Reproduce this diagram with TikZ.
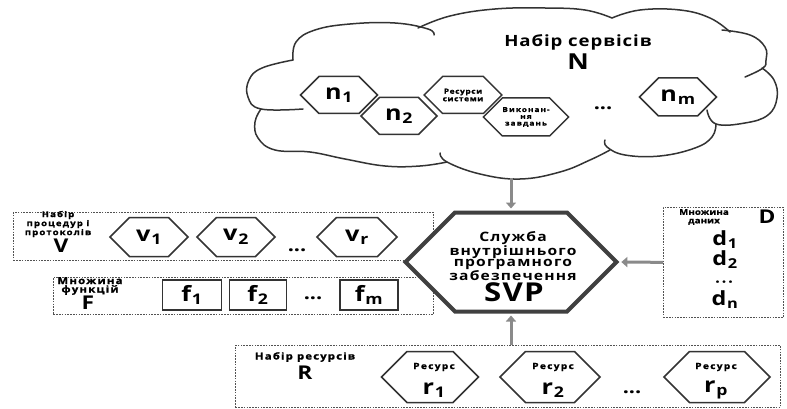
\documentclass[tikz,border=0pt]{standalone}
\usepackage{fontspec}
\setmainfont{Open Sans}[FakeStretch=1.2]
\usetikzlibrary{shapes.symbols,arrows.meta}
\definecolor{edge}{HTML}{333333}
\definecolor{svpedge}{HTML}{404040}
\definecolor{arr}{HTML}{8A8A8A}
\newcommand{\fs}[2]{\fontsize{#1}{#2}\selectfont}
\newcommand{\ls}[1]{\addfontfeature{LetterSpace=#1}}
\newcommand{\fb}{\addfontfeature{FakeBold=1.2}}
\newcommand{\sbs}[2]{#1\kern0.8pt\textsubscript{#2}}
\tikzset{
 hexa/.style={signal, signal to=west and east, signal pointer angle=90, draw=edge, line width=1.5pt, fill=white, inner sep=0pt, font=\bfseries, align=center, text=black},
 fbx/.style={draw=edge, line width=1.9pt, fill=white, inner sep=0pt, font=\bfseries\fs{21}{21}, text=black},
 dbox/.style={draw=edge!85, line width=0.7pt, dash pattern=on 1.6pt off 1.2pt, anchor=north west, inner sep=0pt},
 arrowc/.style={draw=arr, line width=3pt, -{Triangle[length=6pt,width=10pt]}},
 lbl/.style={font=\bfseries, align=center, inner sep=0pt, text=black},
 dots/.style={lbl, font=\bfseries\fs{18}{18}, text height=3pt, text depth=0pt},
 dlet/.style={lbl, font=\bfseries\fs{19.5}{19.5}},
 cl/.style={draw=edge, line width=1.5pt, line join=round, line cap=round}
}
\begin{document}
\begin{tikzpicture}[x=1pt,y=-1pt]
\fill[white] (0,0) rectangle (787,409);
\useasboundingbox (0,0) rectangle (787,409);
% cloud
\draw[cl] plot[smooth,tension=0.7] coordinates {(303,109) (261,109) (248,97) (249,80) (262,68) (293,60)};
\draw[cl] plot[smooth,tension=0.7] coordinates {(293,60) (296,42) (315,30) (350,24) (395,23) (428,29) (434,35)};
\draw[cl] plot[smooth,tension=0.7] coordinates {(418,28) (450,16) (495,9) (545,8) (585,10) (612,18)};
\draw[cl] plot[smooth,tension=0.7] coordinates {(612,18) (640,10) (680,10) (710,18) (730,32)};
\draw[cl] plot[smooth,tension=0.7] coordinates {(722,30) (750,35) (765,47) (766,60) (763,68) (745,77)};
\draw[cl] plot[smooth,tension=0.7] coordinates {(762,68) (774,80) (777,98) (768,115) (745,123) (716,124) (707,110)};
\draw[cl] plot[smooth,tension=0.7] coordinates {(716,124) (712,137) (695,148) (660,156) (625,155) (607,147) (605,140)};
\draw[cl] plot[smooth,tension=0.7] coordinates {(610,150) (590,160) (560,172) (520,179) (480,174) (447,162) (440,153)};
\draw[cl] plot[smooth,tension=0.7] coordinates {(447,162) (420,166) (385,166) (345,159) (310,152) (275,150) (258,138) (255,122) (261,109)};
% cloud content
\node[lbl, font=\bfseries\fs{15.5}{16}\ls{6}] (ntitle) at (578,42) {Набір сервісів};
\node[lbl, font=\bfseries\fs{22}{22}] (N) at (578,62) {N};
\node[hexa, minimum width=77pt, minimum height=37pt, font=\bfseries\fs{21}{21}] (n1) at (339,95) {\sbs{n}{1}};
\node[hexa, minimum width=76pt, minimum height=37pt, font=\bfseries\fs{21}{21}] (n2) at (399,116) {\sbs{n}{2}};
\node[hexa, minimum width=74pt, minimum height=37pt, font=\bfseries\fs{7}{7.5}\ls{8}\fb] (res) at (463,95) {Ресурси\\системи};
\node[hexa, minimum width=77pt, minimum height=38pt, font=\bfseries\fs{6.8}{6.8}\ls{16}\fb] (vyk) at (526,117) {Виконан-\\ня\\завдань};
\node[dots] (ndots) at (603,108) {...};
\node[hexa, minimum width=77pt, minimum height=38pt, font=\bfseries\fs{21}{21}] (nm) at (678,97) {\sbs{n}{m}};
% V box
\node[dbox, minimum width=420pt, minimum height=48pt] (vbox) at (13,212) {};
\node[lbl, font=\bfseries\fs{8}{7.6}\ls{14}\fb] (vlab) at (58,224) {Набір\\процедур і\\протоколів};
\node[lbl, font=\bfseries\fs{19}{19}] (V) at (61,246) {V};
\node[hexa, minimum width=78pt, minimum height=39pt, font=\bfseries\fs{21}{21}] (v1) at (149,237) {\sbs{v}{1}};
\node[hexa, minimum width=78pt, minimum height=39pt, font=\bfseries\fs{21}{21}] (v2) at (236,237) {\sbs{v}{2}};
\node[dots] (vdots) at (297,250) {...};
\node[hexa, minimum width=80pt, minimum height=39pt, font=\bfseries\fs{21}{21}] (vr) at (357,237) {\sbs{v}{r}};
% F box
\node[dbox, minimum width=380pt, minimum height=37pt] (fbox) at (53,277) {};
\node[lbl, font=\bfseries\fs{9.5}{8.5}\ls{13}\fb] (flab) at (90,286) {Множина\\функцій};
\node[lbl, font=\bfseries\fs{19}{19}] (F) at (88,303) {F};
\node[fbx, minimum width=59pt, minimum height=30pt] (f1) at (192,295) {\sbs{f}{1}};
\node[fbx, minimum width=57pt, minimum height=30pt] (f2) at (258,295) {\sbs{f}{2}};
\node[dots] (fdots) at (313,298) {...};
\node[fbx, minimum width=58pt, minimum height=30pt] (fm) at (369,295) {\sbs{f}{m}};
% D box
\node[dbox, minimum width=120pt, minimum height=110pt] (dbox) at (663,207) {};
\node[lbl, font=\bfseries\fs{8}{8.5}\ls{2}\fb] (dlab) at (704,217) {Множина\\даних};
\node[lbl, font=\bfseries\fs{19}{19}] (D) at (767,217) {D};
\node[dlet] (d1) at (725,240) {\sbs{d}{1}};
\node[dlet] (d2) at (725,260) {\sbs{d}{2}};
\node[dots, font=\bfseries\fs{12}{12}\ls{20}\addfontfeature{FakeBold=2.5}] (ddots) at (724,281) {...};
\node[dlet] (dn) at (725,300) {\sbs{d}{n}};
% R box
\node[dbox, minimum width=545pt, minimum height=62pt] (rbox) at (235,345) {};
\node[lbl, font=\bfseries\fs{9.5}{9.5}\ls{12}\fb] (rlab) at (305,357) {Набір ресурсів};
\node[lbl, font=\bfseries\fs{19}{19}] (R) at (305,373) {R};
\node[hexa, minimum width=97pt, minimum height=51pt] (r1) at (430,377) {};
\node[lbl, font=\bfseries\fs{8.5}{8.5}\ls{15}\fb] (r1a) at (434,367) {Ресурс};
\node[lbl, font=\bfseries\fs{21}{21}] (r1b) at (434,390) {\sbs{r}{1}};
\node[hexa, minimum width=100pt, minimum height=51pt] (r2) at (550,377) {};
\node[lbl, font=\bfseries\fs{8.5}{8.5}\ls{15}\fb] (r2a) at (553,367) {Ресурс};
\node[lbl, font=\bfseries\fs{21}{21}] (r2b) at (553,390) {\sbs{r}{2}};
\node[dots] (rdots) at (632,392) {...};
\node[hexa, minimum width=106pt, minimum height=51pt] (rp) at (717,377) {};
\node[lbl, font=\bfseries\fs{8.5}{8.5}\ls{15}\fb] (rpa) at (716,367) {Ресурс};
\node[lbl, font=\bfseries\fs{21}{21}] (rpb) at (716,390) {\sbs{r}{p}};
% SVP
\node[hexa, draw=svpedge, line width=4pt, minimum width=211pt, minimum height=99pt] (svp) at (511,262) {};
\node[lbl, font=\bfseries\fs{13}{11.6}\ls{9}] (svpt) at (513,256) {Служба\\внутрішнього\\програмного\\забезпечення};
\node[lbl, font=\bfseries\fs{26}{26}\ls{5}] (svplab) at (514,292) {SVP};
% arrows
\coordinate (cb) at (511,178);
\draw[arrowc, shorten >=2pt] (cb) -- (svp.north);
\draw[arrowc, shorten >=2pt] (dbox.west) -- (svp.east);
\draw[arrowc, shorten >=2pt] (svp.south |- rbox.north) -- (svp.south);
\end{tikzpicture}
\end{document}
